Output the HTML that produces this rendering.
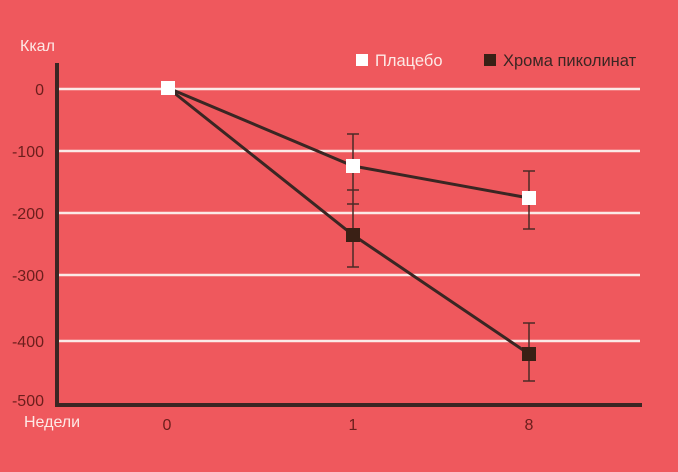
<!DOCTYPE html>
<html><head><meta charset="utf-8"><style>
html,body{margin:0;padding:0;background:#ef585d;}
svg{display:block;}
text{font-family:"Liberation Sans","DejaVu Sans",sans-serif;}
</style></head><body>
<svg width="678" height="472" viewBox="0 0 678 472">
<rect width="678" height="472" fill="#ef585d"/>
<g stroke="#fbe9e6" stroke-width="2.5">
<line x1="58" y1="89" x2="640" y2="89"/>
<line x1="58" y1="151" x2="640" y2="151"/>
<line x1="58" y1="213" x2="640" y2="213"/>
<line x1="58" y1="275" x2="640" y2="275"/>
<line x1="58" y1="341" x2="640" y2="341"/>
</g>
<g stroke="#3a2623" stroke-width="4">
<line x1="57" y1="63" x2="57" y2="406"/>
<line x1="55" y1="405" x2="642" y2="405"/>
</g>
<g fill="#6b1e1c" font-size="16" text-anchor="end">
<text x="44" y="95">0</text>
<text x="44" y="157">-100</text>
<text x="44" y="219">-200</text>
<text x="44" y="281">-300</text>
<text x="44" y="347">-400</text>
<text x="44" y="406">-500</text>
</g>
<text x="20" y="51" font-size="16" fill="#fde9e6">Ккал</text>
<text x="24" y="427" font-size="16" fill="#fde9e6">Недели</text>
<g fill="#6b1e1c" font-size="16" text-anchor="middle">
<text x="167" y="430">0</text><text x="353" y="430">1</text><text x="529" y="430">8</text>
</g>
<g stroke="#4a2a26" stroke-width="1.5">
<line x1="353" y1="134" x2="353" y2="267"/>
<line x1="347" y1="134" x2="359" y2="134"/>
<line x1="347" y1="190" x2="359" y2="190"/>
<line x1="347" y1="204" x2="359" y2="204"/>
<line x1="347" y1="267" x2="359" y2="267"/>
<line x1="529" y1="171" x2="529" y2="229"/>
<line x1="523" y1="171" x2="535" y2="171"/>
<line x1="523" y1="229" x2="535" y2="229"/>
<line x1="529" y1="323" x2="529" y2="381"/>
<line x1="523" y1="323" x2="535" y2="323"/>
<line x1="523" y1="381" x2="535" y2="381"/>
</g>
<g stroke="#3a2623" stroke-width="3" fill="none">
<polyline points="168,88 353,166 529,198"/>
<polyline points="168,88 353,235 529,354"/>
</g>
<g fill="#fff"><rect x="161" y="81" width="14" height="14"/><rect x="346" y="159" width="14" height="14"/><rect x="522" y="191" width="14" height="14"/></g>
<g fill="#3a2015"><rect x="346" y="228" width="14" height="14"/><rect x="522" y="347" width="14" height="14"/></g>
<rect x="356" y="54" width="12" height="12" fill="#fff"/>
<text x="375" y="66" font-size="16.5" fill="#fde9e6">Плацебо</text>
<rect x="484" y="54" width="12" height="12" fill="#3a2015"/>
<text x="503" y="66" font-size="16.5" fill="#3a2623">Хрома пиколинат</text>
</svg>
</body></html>
